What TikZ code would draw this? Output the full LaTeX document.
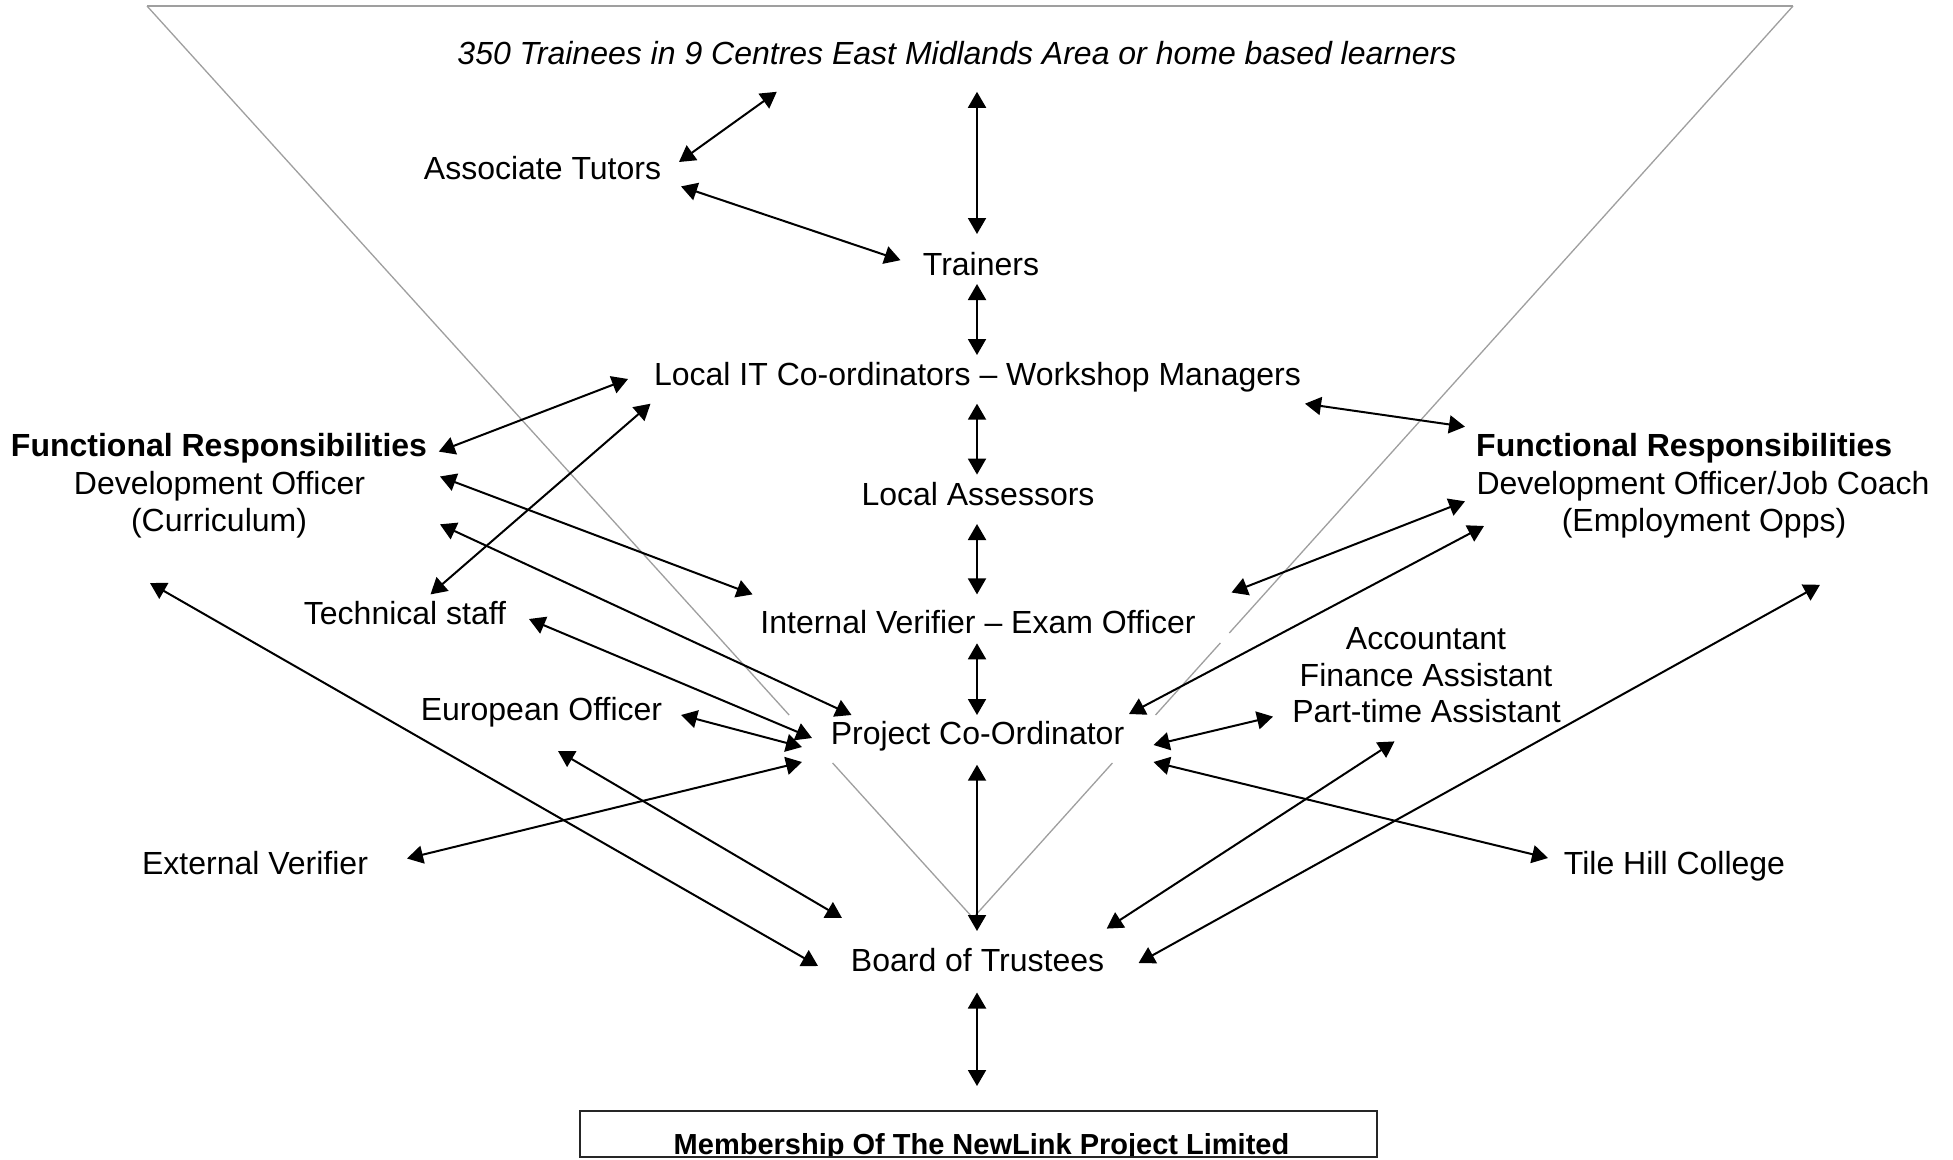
\documentclass[tikz,border=0pt]{standalone}
\usepackage{fontspec}
\setmainfont{Liberation Sans}
\usetikzlibrary{arrows.meta}
\begin{document}
\begin{tikzpicture}[x=1pt,y=-1pt,
  lbl/.style={inner sep=0pt, anchor=base, font=\fontsize{32}{37}\selectfont},
  boldlbl/.style={inner sep=0pt, anchor=base, font=\fontsize{32}{37}\selectfont\bfseries},
  link/.style={{Triangle[length=16pt,width=18pt]}-{Triangle[length=16pt,width=18pt]}, line width=2pt, black},
  guide/.style={draw=gray!75, line width=1.3pt}]
\useasboundingbox (0,0) rectangle (1953,1159);
\clip (0,0) rectangle (1953,1159);
\fill[white] (0,0) rectangle (1953,1159);

% gray funnel
\coordinate (tl) at (147,6);
\coordinate (tr) at (1793,6);
\coordinate (apex) at (973,918);
\draw[guide] (tl) -- (tr);
\draw[guide] (tl) -- (789.1,715);
\draw[guide] (832.6,763) -- (apex);
\draw[guide] (tr) -- (1229.3,633);
\draw[guide] (1220.3,643) -- (1155.5,715);
\draw[guide] (1112.4,763) -- (apex);

% texts
\node[lbl, font=\fontsize{32}{37}\selectfont\itshape] (trainees) at (957,64.5) {350 Trainees in 9 Centres East Midlands Area or home based learners};
\node[lbl] (tutors) at (542.5,179.5) {Associate Tutors};
\node[lbl] (trainers) at (981,275) {Trainers};
\node[lbl] (localit) at (977.5,385) {Local IT Co-ordinators – Workshop Managers};
\node[boldlbl] (frl) at (219,456.8) {Functional Responsibilities};
\node[lbl] (devl) at (219.5,494) {Development Officer};
\node[lbl] (curr) at (219,531) {(Curriculum)};
\node[lbl] (assess) at (978,505.8) {Local Assessors};
\node[lbl] (tech) at (405,624.5) {Technical staff};
\begin{scope}
\clip (700,560) rectangle (1260,633);
\node[lbl] (iv) at (978,633.5) {Internal Verifier – Exam Officer};
\end{scope}
\node[lbl] (acc) at (1426,649.4) {Accountant};
\node[lbl] (fin) at (1426,686) {Finance Assistant};
\node[lbl] (part) at (1426.5,722.5) {Part-time Assistant};
\node[lbl] (euro) at (541.5,720) {European Officer};
\node[lbl] (pco) at (977.5,744.8) {Project Co-Ordinator};
\node[lbl] (ext) at (255,874.5) {External Verifier};
\node[lbl] (tile) at (1674.5,874.5) {Tile Hill College};
\node[lbl] (board) at (977.5,971) {Board of Trustees};
\node[boldlbl, anchor=base west] (frr) at (1476,456.8) {Functional Responsibilities};
\node[lbl] (devr) at (1703,494) {Development Officer/Job Coach};
\node[lbl] (emp) at (1704,531) {(Employment Opps)};

% membership box
\draw[draw=black!85, line width=1.5pt] (580,1111) rectangle (1377,1157);
\begin{scope}
\clip (581,1112) rectangle (1376,1155.5);
\node[inner sep=0pt, anchor=base, font=\fontsize{29}{33}\selectfont\bfseries] (member) at (981.5,1154) {Membership Of The NewLink Project Limited};
\end{scope}

% arrow end points
\coordinate (a1) at (776.8,91.8);   \coordinate (a2) at (679,162);
\coordinate (b1) at (681,186.4);    \coordinate (b2) at (900.5,260.2);
\coordinate (c1) at (977,91.8);     \coordinate (c2) at (977,234);
\coordinate (d1) at (977,284);      \coordinate (d2) at (977,355);
\coordinate (e1) at (977,403.7);    \coordinate (e2) at (977,474.6);
\coordinate (f1) at (977,524);      \coordinate (f2) at (977,594.4);
\coordinate (g1) at (977,643.3);    \coordinate (g2) at (977,715);
\coordinate (h1) at (977,764.7);    \coordinate (h2) at (977,931);
\coordinate (i1) at (977,992.5);    \coordinate (i2) at (977,1086);
\coordinate (j1) at (628,379);      \coordinate (j2) at (438.8,451.6);
\coordinate (k1) at (650.5,403.7);  \coordinate (k2) at (430.5,594.4);
\coordinate (l1) at (440,476.5);    \coordinate (l2) at (752.6,594.4);
\coordinate (m1) at (440,524.3);    \coordinate (m2) at (851.5,715);
\coordinate (n1) at (529,619);      \coordinate (n2) at (812,738);
\coordinate (o1) at (681,715);      \coordinate (o2) at (802,747);
\coordinate (p1) at (407,858.5);    \coordinate (p2) at (802,762);
\coordinate (q1) at (558,751);      \coordinate (q2) at (842,918);
\coordinate (r1) at (150,583);      \coordinate (r2) at (818,966);
\coordinate (s1) at (1305,403.7);   \coordinate (s2) at (1465,426.7);
\coordinate (t1) at (1231.5,592.5); \coordinate (t2) at (1465,501.3);
\coordinate (u1) at (1129,714);     \coordinate (u2) at (1484,526);
\coordinate (v1) at (1153.5,745);   \coordinate (v2) at (1273,716.6);
\coordinate (w1) at (1153.5,762);   \coordinate (w2) at (1548,858);
\coordinate (x1) at (1106.7,928.6); \coordinate (x2) at (1394.5,741.4);
\coordinate (y1) at (1138.6,963);   \coordinate (y2) at (1820,584.8);

\foreach \p in {a,b,c,d,e,f,g,h,i,j,k,l,m,n,o,p,q,r,s,t,u,v,w,x,y}
  \draw[link] (\p1) -- (\p2);
\end{tikzpicture}
\end{document}
